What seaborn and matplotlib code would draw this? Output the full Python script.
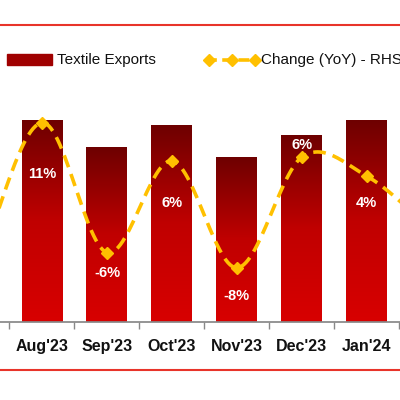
import numpy as np
import pandas as pd
import matplotlib
matplotlib.use("Agg")
import matplotlib.pyplot as plt
import seaborn as sns
from matplotlib.colors import LinearSegmentedColormap
from matplotlib.patches import Rectangle
from matplotlib.lines import Line2D

months = ["Aug'23", "Sep'23", "Oct'23", "Nov'23", "Dec'23", "Jan'24"]
exports = [2.02, 1.75, 1.97, 1.65, 1.87, 2.02]
yoy_months = ["Jul'23", "Aug'23", "Sep'23", "Oct'23", "Nov'23", "Dec'23", "Jan'24", "Feb'24"]
yoy = [-8, 11, -6, 6, -8, 6.5, 4, -3]
yoy_labels = ["11%", "-6%", "6%", "-8%", "6%", "4%"]
label_offsets = [-37, -15, -30, -20, 9, -19]

sns.set_theme(style="white")
plt.rcParams['font.family'] = ['Liberation Sans', 'DejaVu Sans']

fig = plt.figure(figsize=(4, 4), dpi=100)
ax = fig.add_axes([0, 0.195, 1, 0.605])
df = pd.DataFrame({"m": months, "v": exports})
sns.barplot(data=df, x="m", y="v", ax=ax, color="#b00000", width=0.63, saturation=1)

cmap = LinearSegmentedColormap.from_list("g", ["#6e0000", "#c00000", "#d80000"])
grad = np.linspace(0, 1, 256).reshape(-1, 1)
for p in ax.patches:
    x0, w, h = p.get_x(), p.get_width(), p.get_height()
    im = ax.imshow(grad, cmap=cmap, aspect="auto", extent=(x0, x0 + w, 0, h), origin="upper", zorder=2)
    im.set_clip_path(p)
    p.set_facecolor("none")
ax.set_xlim(-0.646, 5.51)
ax.set_ylim(0, 2.42)

for s in ["top", "left", "right"]:
    ax.spines[s].set_visible(False)
ax.spines["bottom"].set_color("#888888")
ax.set_yticks([])
ax.set_xlabel(""); ax.set_ylabel("")
ax.set_xticks(range(len(months)))
ax.set_xticklabels(months, fontsize=11.5, fontweight="bold", color="#111111")
ax.tick_params(axis="x", which="major", length=0, pad=12)
ax.set_xticks(np.arange(-0.5, 6, 1), minor=True)
ax.tick_params(axis="x", which="minor", length=5, color="#888888", direction="out", bottom=True)

ax2 = ax.twinx()
ax2.set_ylim(-15.1, 16.6)
ax2.set_xlim(-0.646, 5.51)
ax2.axis("off")
xs = np.arange(-1, len(yoy) - 1, dtype=float)
ys = np.array(yoy, dtype=float)
# Catmull-Rom smoothing of the line path
px, py = [], []
P = np.column_stack([xs, ys])
P = np.vstack([2 * P[0] - P[1], P, 2 * P[-1] - P[-2]])
t = np.linspace(0, 1, 30)
for i in range(1, len(P) - 2):
    p0, p1, p2, p3 = P[i - 1], P[i], P[i + 1], P[i + 2]
    seg = 0.5 * ((2 * p1)[None] + (-p0 + p2)[None] * t[:, None]
                 + (2 * p0 - 5 * p1 + 4 * p2 - p3)[None] * t[:, None] ** 2
                 + (-p0 + 3 * p1 - 3 * p2 + p3)[None] * t[:, None] ** 3)
    px.extend(seg[:, 0]); py.extend(seg[:, 1])
ax2.plot(px, py, color="#FFC000", lw=2.6, ls=(0, (3.5, 2)), zorder=3)
ax2.plot(xs, ys, ls="none", marker="D", ms=6, color="#FFC000", zorder=4)
for i, (lab, off) in enumerate(zip(yoy_labels, label_offsets)):
    ax2.annotate(lab, (i, yoy[i + 1]), xytext=(0, off), textcoords="offset points",
                 ha="center", va="center", color="white", fontsize=10.5, fontweight="bold", zorder=5)

fig.add_artist(Line2D([0, 1], [0.9375, 0.9375], color="#E8342A", lw=1.5))
fig.add_artist(Line2D([0, 1], [0.075, 0.075], color="#E8342A", lw=1.5))
fig.add_artist(Rectangle((0.018, 0.837), 0.112, 0.027, color="#a00000"))
fig.text(0.143, 0.85, "Textile Exports", fontsize=11, va="center", color="#111111")
fig.add_artist(Line2D([0.515, 0.64], [0.85, 0.85], color="#FFC000", lw=2.6, ls=(0, (3, 1.5))))
fig.add_artist(Line2D([0.523, 0.58, 0.637], [0.85, 0.85, 0.85], ls="none", marker="D", ms=6, color="#FFC000"))
fig.text(0.652, 0.85, "Change (YoY) - RHS", fontsize=11, va="center", color="#111111")

fig.savefig("out.png", dpi=100)
